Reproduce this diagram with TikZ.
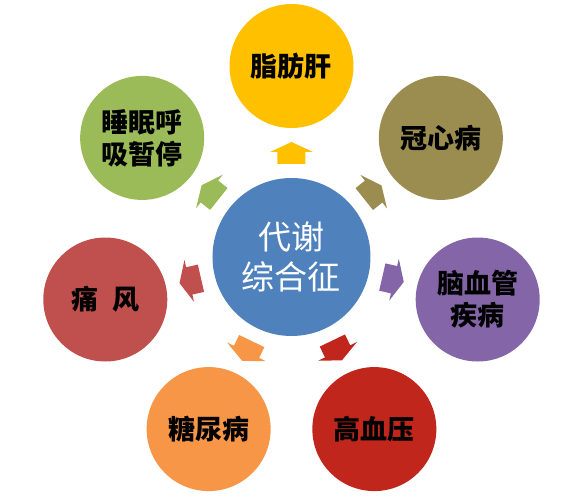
\documentclass[tikz,border=0pt]{standalone}
\usepackage{fontspec}
\setmainfont{Noto Sans CJK SC}
\usetikzlibrary{calc}

\definecolor{coreblue}{HTML}{4F81BD}
\definecolor{fatty}{HTML}{FFC000}
\definecolor{heart}{HTML}{9A8D4F}
\definecolor{brain}{HTML}{8466A8}
\definecolor{hyper}{HTML}{C0261C}
\definecolor{sugar}{HTML}{F79646}
\definecolor{gout}{HTML}{C0504D}
\definecolor{apnea}{HTML}{9BBB59}

\tikzset{
  ball/.style={circle, minimum size=124pt, inner sep=0pt, align=center,
    font=\bfseries\fontsize{27}{32}\selectfont},
  house/.pic={\fill (-11,14) -- (1,14) -- (1,21.5) -- (11,0) -- (1,-21.5)
    -- (1,-14) -- (-11,-14) -- cycle;}
}

\begin{document}
\begin{tikzpicture}[x=1pt,y=1pt]

\useasboundingbox (-291.5,-243) rectangle (287.5,257);

\node[ball, fill=coreblue, minimum size=158pt, text=white,
  font=\fontsize{33}{40}\selectfont] (core) {代谢\\综合征};

\foreach \a/\col/\txt [count=\i, evaluate=\a as \b using \a+180] in
  {90/fatty/脂肪肝, 38.57/heart/冠心病, -12.86/brain/{脑血管\\疾病},
   -64.29/hyper/高血压, -115.71/sugar/糖尿病, -167.14/gout/{痛\hspace{.5em}风},
   141.43/apnea/{睡眠呼\\吸暂停}}
{
  \node[ball, fill=\col] (s\i) at (\a:191) {\txt};
  \coordinate (m\i) at ($(core.\a)!0.5!(s\i.\b)$);
  \pic[fill=\col, rotate=\a] at (m\i) {house};
}

\end{tikzpicture}
\end{document}
